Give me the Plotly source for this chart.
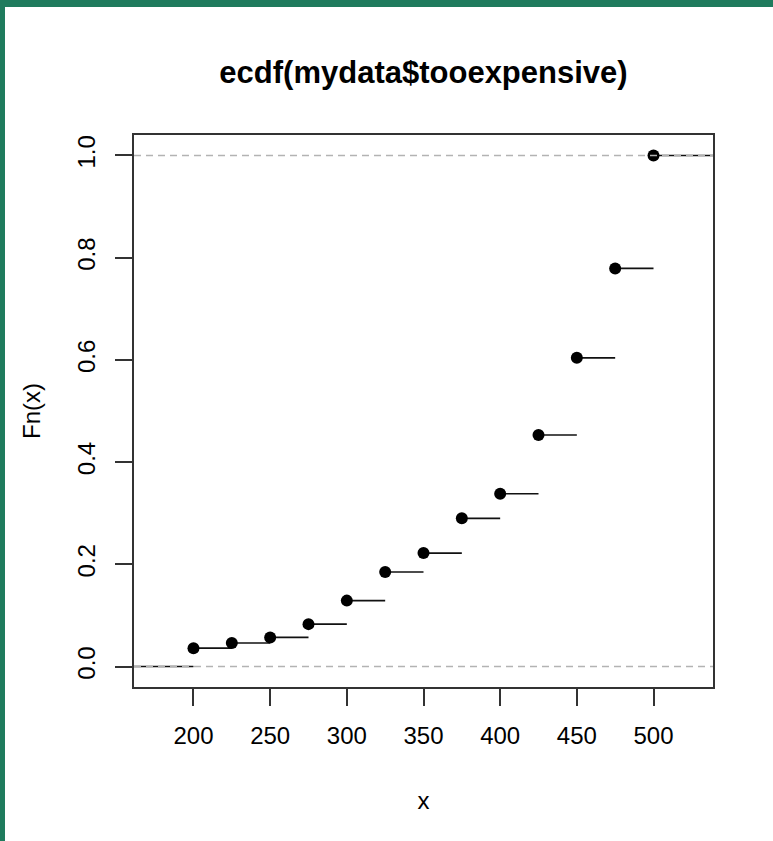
import plotly.graph_objects as go

# Data
x_knots = [200, 225, 250, 275, 300, 325, 350, 375, 400, 425, 450, 475, 500]
fn_vals = [0.036, 0.046, 0.057, 0.083, 0.129, 0.185, 0.222, 0.290, 0.338, 0.453, 0.604, 0.779, 1.0]
x_ticks = [200, 250, 300, 350, 400, 450, 500]
y_ticks = [0.0, 0.2, 0.4, 0.6, 0.8, 1.0]
title_text = "ecdf(mydata$tooexpensive)"

# step extension like R's plot.stepfun
dr = 25
seg_x, seg_y = [], []
left = [x_knots[0] - 2 * dr] + x_knots
right = x_knots + [x_knots[-1] + 2 * dr]
levels = [0.0] + fn_vals
for i in range(len(levels)):
    seg_x += [left[i], right[i], None]
    seg_y += [levels[i], levels[i], None]

FONT = "Liberation Sans, Arial, sans-serif"

fig = go.Figure()
fig.add_trace(go.Scatter(x=seg_x, y=seg_y, mode="lines",
                         line=dict(color="#111111", width=1.6),
                         hoverinfo="skip", showlegend=False))
fig.add_trace(go.Scatter(x=x_knots, y=fn_vals, mode="markers",
                         marker=dict(color="black", size=12),
                         showlegend=False))

for h in [0.0, 1.0]:
    fig.add_shape(type="line", xref="paper", yref="y", x0=0, x1=1, y0=h, y1=h,
                  line=dict(color="#b3b3b3", width=1.5, dash="7px,5px"), layer="above")

# green frame of the screenshot
L, R, T, B, W, H = 134, 713, 135, 687, 773, 841
pw, ph = R - L, B - T
def px(xp): return (xp - L) / pw
def py(yp): return (B - yp) / ph
green = "#1f7b5d"
fig.add_shape(type="rect", xref="paper", yref="paper", x0=px(0), x1=px(5), y0=py(H), y1=py(0),
              fillcolor=green, line=dict(width=0), layer="above")
fig.add_shape(type="rect", xref="paper", yref="paper", x0=px(0), x1=px(W), y0=py(7), y1=py(0),
              fillcolor=green, line=dict(width=0), layer="above")

axis_common = dict(showgrid=False, zeroline=False, showline=True, mirror=True,
                   linecolor="#333333", linewidth=1.5, ticks="outside", ticklen=17,
                   tickwidth=1.5, tickcolor="#333333",
                   tickfont=dict(family=FONT, size=24, color="black"))

fig.update_layout(
    width=W, height=H,
    margin=dict(l=L, r=W - R, t=T, b=H - B, pad=0),
    paper_bgcolor="white", plot_bgcolor="white",
    title=dict(text="<b>" + title_text + "</b>", x=0.5, xref="paper", xanchor="center",
               y=1 - 72 / H, yref="container", yanchor="middle",
               font=dict(family=FONT, size=31, color="black")),
    xaxis=dict(range=[161.2, 538.8], tickvals=x_ticks, ticktext=[str(v) for v in x_ticks],
               title=dict(text="x", standoff=45, font=dict(family=FONT, size=24, color="black")),
               ticklabelstandoff=9, **axis_common),
    yaxis=dict(range=[-0.04, 1.04], tickvals=y_ticks, ticktext=[f"{v:.1f}" for v in y_ticks],
               tickangle=-90,
               title=dict(text="Fn(x)", standoff=25, font=dict(family=FONT, size=24, color="black")),
               ticklabelstandoff=11, **axis_common),
)

fig.write_html("out.html", config={"displayModeBar": False},
               post_script="document.body.style.margin='0';")
